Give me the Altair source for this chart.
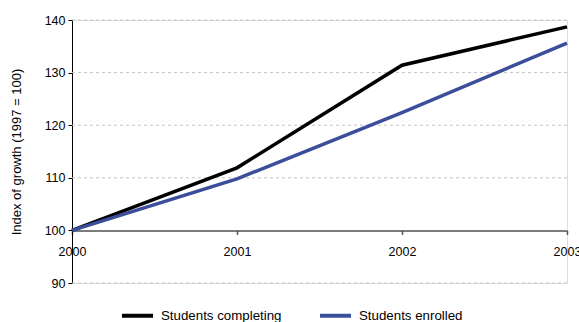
import altair as alt
import pandas as pd

years = [2000, 2001, 2002, 2003]
completing = [100.0, 111.9, 131.4, 138.7]
enrolled = [100.0, 109.8, 122.4, 135.6]
series_names = ["Students completing", "Students enrolled"]
series_colors = ["#000000", "#3b4e9c"]
y_ticks = [90, 100, 110, 120, 130, 140]
grid_ticks = [90, 110, 120, 130, 140]

rows = []
for name, values in zip(series_names, [completing, enrolled]):
    for yr, v in zip(years, values):
        rows.append({"year": yr, "index": v, "series": name})
df = pd.DataFrame(rows)
grid_df = pd.DataFrame({"index": grid_ticks})

W, H = 495, 263
Y_MIN, Y_MAX = 90, 140
FONT = "Liberation Sans"
# the horizontal axis sits on the 100 baseline
x_axis_offset = -H * (100 - Y_MIN) / (Y_MAX - Y_MIN)

x_scale = alt.Scale(domain=[years[0], years[-1]], nice=False, zero=False)
y_scale = alt.Scale(domain=[Y_MIN, Y_MAX], nice=False, zero=False)

y_axis = alt.Axis(
    values=y_ticks,
    title="Index of growth (1997 = 100)",
    titleFont=FONT,
    titleFontSize=13,
    titleFontWeight="normal",
    titleColor="#000000",
    titlePadding=21,
    domainColor="#000000",
    domainWidth=1,
    tickColor="#000000",
    tickSize=4,
    labelPadding=3,
    labelFont=FONT,
    labelFontSize=12.5,
    labelColor="#000000",
    grid=False,
)

grid = alt.Chart(grid_df).mark_rule(
    color="#c4c4c4", strokeWidth=1, strokeDash=[3, 3]
).encode(y=alt.Y("index:Q", scale=y_scale, axis=y_axis))

lines = alt.Chart(df).mark_line(strokeWidth=3.5, strokeCap="butt").encode(
    x=alt.X(
        "year:Q",
        scale=x_scale,
        axis=alt.Axis(
            values=years,
            format="d",
            title=None,
            offset=x_axis_offset,
            domainColor="#505050",
            domainWidth=1.5,
            tickColor="#505050",
            tickWidth=1.5,
            tickSize=4,
            labelPadding=11,
            labelFlush=False,
            labelFont=FONT,
            labelFontSize=12.5,
            labelColor="#000000",
            grid=False,
        ),
    ),
    y=alt.Y("index:Q", scale=y_scale, axis=y_axis),
    color=alt.Color(
        "series:N",
        scale=alt.Scale(domain=series_names, range=series_colors),
        legend=alt.Legend(
            title=None,
            orient="none",
            legendX=48,
            legendY=278,
            direction="horizontal",
            columns=2,
            columnPadding=30,
            symbolType="stroke",
            symbolSize=961,
            symbolStrokeWidth=4,
            symbolOpacity=1,
            labelOffset=6,
            labelFont=FONT,
            labelFontSize=13.3,
            labelColor="#000000",
        ),
    ),
)

chart = (
    alt.layer(grid, lines)
    .properties(
        width=W,
        height=H,
        autosize=alt.AutoSizeParams(type="none"),
        padding={"left": 72, "top": 20, "right": 12, "bottom": 39},
    )
    .configure_view(stroke=None)
    .configure(background="#ffffff")
)

chart.save("out.html", embed_options={"renderer": "svg", "actions": False})
